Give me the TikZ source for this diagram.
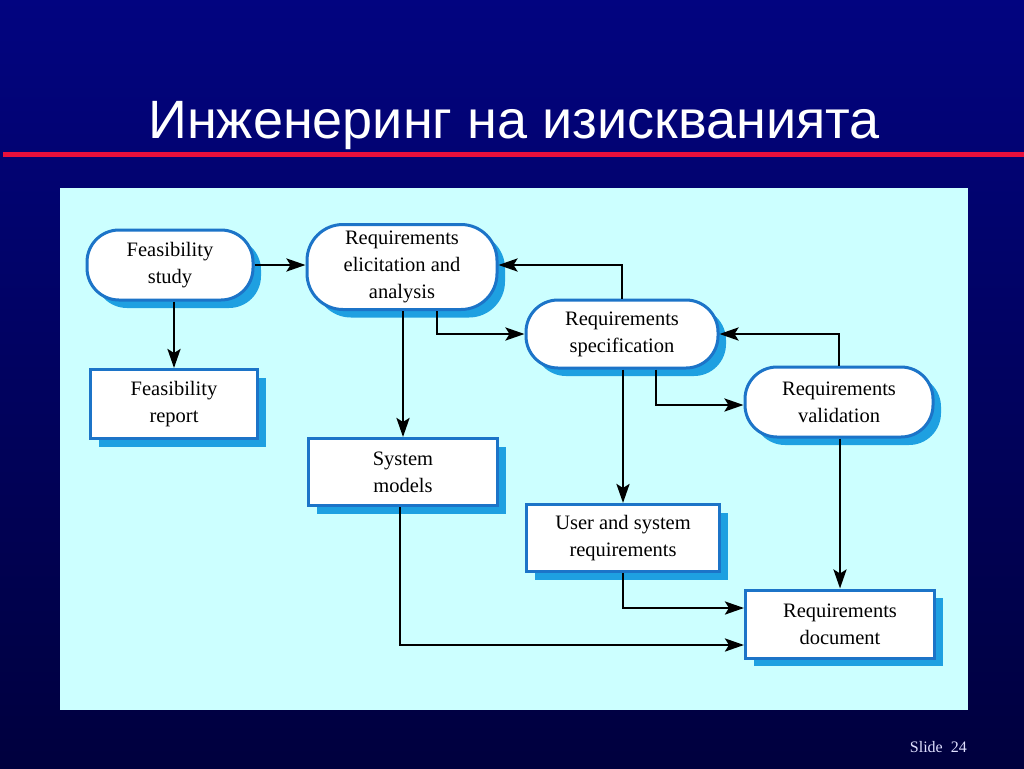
\documentclass[tikz,border=0pt]{standalone}
\usepackage{fontspec}
\setmainfont{Liberation Serif}
\newfontfamily\titlefont{Liberation Sans}
\usepackage{tikz}
\usetikzlibrary{positioning,arrows.meta,calc,shadows}

\definecolor{slidetop}{RGB}{2,4,128}
\definecolor{slidebot}{RGB}{0,0,62}
\definecolor{panelcyan}{RGB}{204,255,255}
\definecolor{nodeblue}{RGB}{28,116,200}
\definecolor{shadowblue}{RGB}{30,160,225}
\definecolor{rulered}{RGB}{232,16,60}

\tikzset{
  stage/.style={draw=nodeblue, line width=3pt, fill=white, rounded corners=32pt,
    align=center, font=\fontsize{20.5}{27}\selectfont, inner sep=2pt,
    drop shadow={shadow xshift=8pt, shadow yshift=-8pt, fill=shadowblue, opacity=1}},
  product/.style={draw=nodeblue, line width=3pt, fill=white,
    align=center, font=\fontsize{20.5}{27}\selectfont, inner sep=2pt,
    drop shadow={shadow xshift=8pt, shadow yshift=-8pt, fill=shadowblue, opacity=1}},
  flow/.style={-{Stealth[length=19pt,width=13pt,inset=4pt]}, line width=2.8pt}
}

\begin{document}
\begin{tikzpicture}[x=1pt,y=-1pt]
\useasboundingbox (0,0) rectangle (1024,768);
% Background
\shade[top color=slidetop, bottom color=slidebot] (0,0) rectangle (1024,768);
\draw[rulered, line width=5pt] (3,154) -- (1024,154);
\node[anchor=base, text=white, font=\titlefont\fontsize{54}{60}\selectfont, inner sep=0pt] (title) at (514,138) {Инженеринг на изискванията};
\node[anchor=base east, text=white!88!blue, font=\fontsize{16}{18}\selectfont, inner sep=0pt] (slideno) at (967,752) {Slide\enspace 24};
\fill[panelcyan] (60,188) rectangle (968,710);

% Processes
\node[stage, minimum width=166pt, minimum height=70pt] (study) at (170,265) {Feasibility\\study};
\node[stage, minimum width=190pt, minimum height=85pt, rounded corners=36pt] (elicit) at (402,267) {Requirements\\elicitation and\\analysis};
\node[stage, minimum width=192pt, minimum height=68pt] (spec) at (622,334) {Requirements\\specification};
\node[stage, minimum width=188pt, minimum height=70pt] (valid) at (839,402) {Requirements\\validation};

% Documents
\node[product, minimum width=167pt, minimum height=69pt] (report) at (174,404) {Feasibility\\report};
\node[product, minimum width=189pt, minimum height=67pt] (models) at (403,472) {System\\models};
\node[product, minimum width=193pt, minimum height=67pt] (userreq) at (623,538) {User and system\\requirements};
\node[product, minimum width=189pt, minimum height=68pt] (reqdoc) at (840,624) {Requirements\\document};

% Arrows
\draw[flow] (study.east) -- (elicit.west |- study.east);
\draw[flow] (report.north |- study.south) -- (report.north);
\draw[flow] (models.north |- elicit.south) -- (models.north);
\draw[flow] ([xshift=35pt]elicit.south) |- (spec.west);
\draw[flow] (spec.north) |- ([yshift=2pt]elicit.east);
\draw[flow] (valid.north) |- (spec.east);
\draw[flow] ([xshift=34pt]spec.south) |- ([yshift=-3pt]valid.west);
\draw[flow] (userreq.north |- spec.south) -- (userreq.north);
\draw[flow] (reqdoc.north |- valid.south) -- (reqdoc.north);
\draw[flow] (userreq.south) |- ([yshift=16pt]reqdoc.west);
\draw[flow] ([xshift=-3pt]models.south) |- ([yshift=-21pt]reqdoc.west);
\end{tikzpicture}
\end{document}
